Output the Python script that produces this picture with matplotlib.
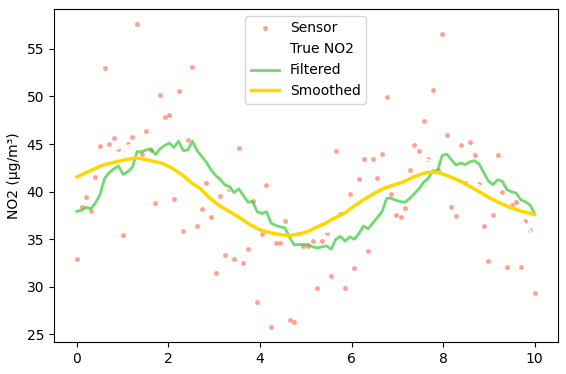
import matplotlib
matplotlib.use("Agg")
import matplotlib.pyplot as plt
import numpy as np

# sensor readings, 100 samples over 0..10
t = np.linspace(0, 10, 100)
sensor = [32.9, 38.4, 39.45, 38.0, 41.55, 44.8, 53.0, 45.0, 45.6, 44.5,
          35.4, 44.96, 45.7, 57.6, 43.96, 46.4, 44.4, 38.8, 50.2, 47.8,
          48.1, 39.2, 50.6, 35.9, 45.4, 53.1, 36.4, 38.2, 40.9, 37.35,
          31.5, 39.5, 33.3, 40.3, 32.9, 44.6, 32.5, 34.0, 39.06, 28.4,
          35.6, 40.7, 25.8, 34.6, 34.6, 36.9, 26.5, 26.3, 35.7, 34.3,
          34.3, 34.85, 29.85, 34.85, 35.7, 31.15, 44.3, 37.7, 29.9, 39.8,
          32.0, 41.3, 43.4, 33.8, 43.4, 41.4, 43.96, 49.9, 39.8, 37.5,
          37.3, 38.3, 42.3, 44.9, 44.3, 47.4, 43.4, 50.7, 42.3, 56.6,
          45.95, 38.4, 37.45, 44.9, 40.9, 45.2, 43.9, 40.8, 36.4, 32.7,
          37.6, 43.9, 40.0, 32.1, 38.6, 38.9, 32.1, 36.9, 36.0, 29.4]

# Kalman filtered estimate (one value per sample)
filtered = [37.94, 38.04, 38.36, 38.2, 38.8, 39.7, 41.4, 42.0, 42.4, 42.7,
            41.8, 42.1, 42.55, 44.2, 44.2, 44.4, 44.5, 43.9, 44.5, 44.86,
            45.1, 44.65, 45.3, 44.3, 44.4, 45.3, 44.3, 43.7, 43.1, 42.3,
            41.7, 41.3, 40.7, 40.55, 39.9, 40.3, 39.6, 38.9, 38.97, 37.9,
            37.7, 37.9, 36.7, 36.45, 36.3, 36.2, 35.2, 34.4, 34.45, 34.45,
            34.45, 34.2, 34.1, 34.2, 34.3, 33.95, 35.0, 35.3, 34.8, 35.25,
            35.0, 35.6, 36.4, 36.1, 36.7, 37.3, 37.9, 39.3, 39.3, 39.1,
            38.95, 38.9, 39.3, 39.8, 40.3, 41.0, 41.4, 42.2, 42.2, 43.8,
            43.95, 43.35, 42.8, 43.0, 42.85, 43.15, 43.25, 42.9, 42.0, 41.1,
            40.75, 41.25, 41.1, 40.2, 40.0, 39.85, 39.15, 38.95, 38.6, 37.7]

# smoothed curve, read at these positions
smooth_x = [0.0, 0.25, 0.57, 0.83, 1.05, 1.30, 1.52, 1.85, 2.07, 2.29,
            2.54, 2.69, 2.90, 3.12, 3.34, 3.56, 3.78, 3.99, 4.21, 4.43,
            4.65, 4.87, 5.09, 5.20, 5.41, 5.63, 5.85, 6.07, 6.29, 6.51,
            6.72, 6.94, 7.16, 7.38, 7.60, 7.78, 7.93, 8.14, 8.36, 8.58,
            8.80, 9.02, 9.24, 9.45, 9.67, 10.0]
smooth_y = [41.55, 42.1, 42.8, 43.1, 43.35, 43.55, 43.36, 43.0, 42.5, 41.8,
            40.8, 40.35, 39.35, 38.5, 37.9, 37.25, 36.55, 36.0, 35.7, 35.5,
            35.4, 35.55, 35.9, 36.19, 36.64, 37.24, 37.76, 38.53, 39.23, 39.86,
            40.38, 40.73, 41.08, 41.6, 41.96, 42.07, 41.96, 41.6, 41.15, 40.56,
            39.97, 39.34, 38.81, 38.36, 38.0, 37.6]

# true signal (drawn in white)
true_x = [0, 0.5, 1.0, 1.5, 2.0, 2.5, 3.0, 3.5, 4.0, 4.5, 5.0,
          5.5, 6.0, 6.5, 7.0, 7.5, 8.0, 8.5, 9.0, 9.5, 10]
true_y = [41.0, 43.5, 44.8, 45.0, 44.0, 42.3, 41.2, 39.8, 38.0, 36.5, 35.6,
          35.8, 37.0, 39.3, 41.8, 43.5, 43.0, 41.3, 40.2, 38.3, 35.3]

fig = plt.figure(figsize=(5.66, 3.74), dpi=100)
ax = fig.add_subplot(111)
fig.subplots_adjust(left=0.0954, right=0.985, top=0.976, bottom=0.0856)

ax.plot(t, sensor, 'o', color='tomato', alpha=0.6, ms=3.5, mew=0, label='Sensor')
ax.plot(true_x, true_y, color='white', lw=1.5, label='True NO2')
ax.plot(t, filtered, color='limegreen', alpha=0.7, lw=2, label='Filtered')
ax.plot(smooth_x, smooth_y, color='gold', lw=2.5, label='Smoothed')

ax.set_ylabel('NO2 (μg/m³)')
ax.legend(loc='upper center')

fig.savefig('out.png', dpi=100)
